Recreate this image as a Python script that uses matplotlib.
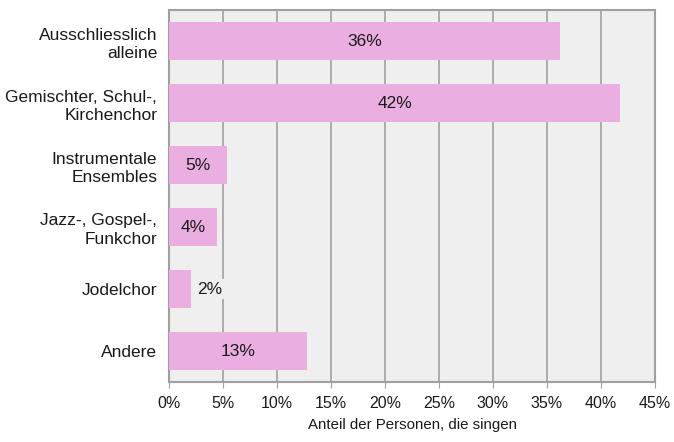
import numpy as np
import matplotlib
matplotlib.use("Agg")
import matplotlib.pyplot as plt
from matplotlib.ticker import PercentFormatter

categories = ["Ausschliesslich\nalleine", "Gemischter, Schul-,\nKirchenchor",
              "Instrumentale\nEnsembles", "Jazz-, Gospel-,\nFunkchor",
              "Jodelchor", "Andere"]
values = [36.2, 41.8, 5.4, 4.4, 2.0, 12.8]
labels = ["36%", "42%", "5%", "4%", "2%", "13%"]

plt.rcParams["font.family"] = ["Liberation Sans", "DejaVu Sans"]
plt.rcParams["font.size"] = 12.5

grid_c = "#a0a0a0"
txt_c = "#1a1a1a"
fig = plt.figure(figsize=(6.74, 4.42), dpi=100)
ax = fig.add_axes([169 / 674, 60 / 442, 486 / 674, 372 / 442])
ax.set_facecolor("#efefef")

y = np.arange(len(categories))
ax.barh(y, values, height=0.61, color="#eaaee0", zorder=3)
for yi, v, lab in zip(y, values, labels):
    if v < 3:
        ax.text(v + 1.8, yi, lab, ha="center", va="center", color=txt_c, zorder=4,
                bbox=dict(boxstyle="square,pad=0.15", fc="#efefef", ec="none"))
    else:
        ax.text(v / 2, yi, lab, ha="center", va="center", color=txt_c, zorder=4)

ax.set_xlim(0, 45)
ax.set_ylim(len(categories) - 0.5, -0.5)
ax.set_xticks(np.arange(0, 46, 5))
ax.xaxis.set_major_formatter(PercentFormatter(decimals=0))
ax.set_yticks(y)
ax.set_yticklabels(categories, ha="right", multialignment="right", linespacing=1.3,
                   color=txt_c)
ax.tick_params(axis="y", length=0, pad=8.5)
ax.tick_params(axis="x", length=4, color=grid_c, pad=6, labelcolor=txt_c, labelsize=11.5)
ax.grid(axis="x", color=grid_c, linewidth=1.2, zorder=1)
for s in ax.spines.values():
    s.set_color(grid_c)
    s.set_linewidth(1.5)
ax.set_xlabel("Anteil der Personen, die singen", fontsize=10.8, labelpad=5, color=txt_c)

fig.savefig("out.png", dpi=100)
